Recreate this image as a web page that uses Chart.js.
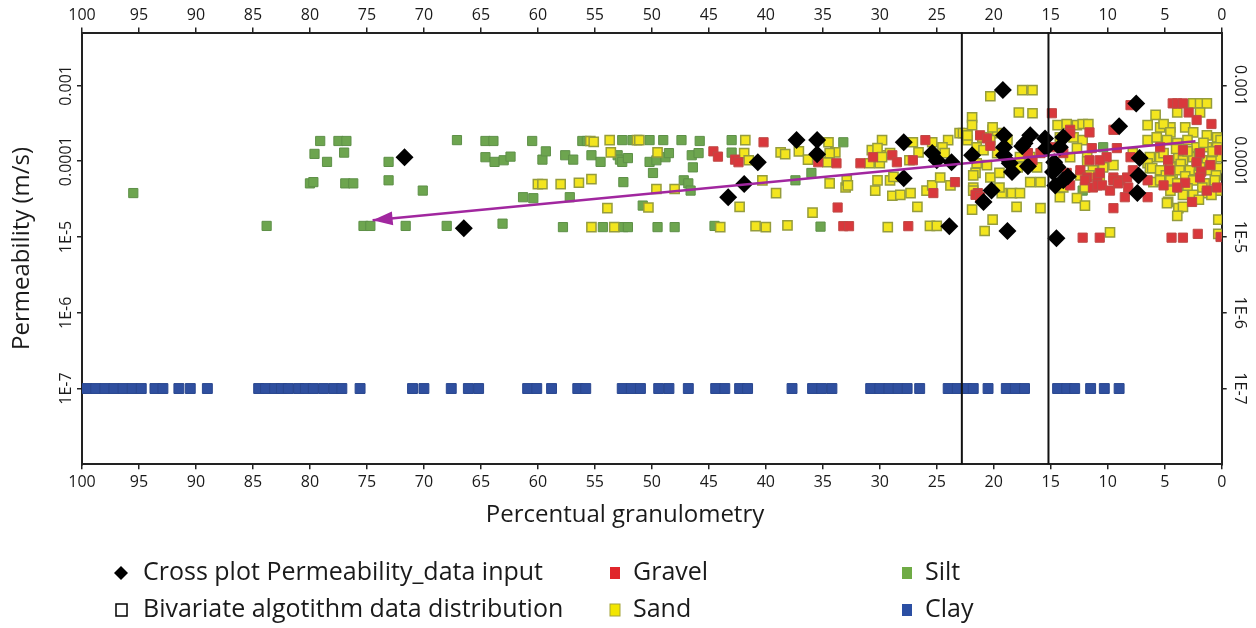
<!DOCTYPE html>
<html>
<head>
<meta charset="utf-8">
<script src="https://cdn.jsdelivr.net/npm/chart.js@4.4.1/dist/chart.umd.min.js"></script>
<style>
  html, body { margin: 0; padding: 0; background: #fff; }
</style>
</head>
<body>
<canvas id="permCht" width="1256" height="628"></canvas>
<script>
// y ticks (log scale, m/s)
const yTickVals = [1e-3, 1e-4, 1e-5, 1e-6, 1e-7];
const yTickLabels = ['0.001', '0.0001', '1E-5', '1E-6', '1E-7'];

// limits
const dividers = [22.8, 15.2];
const trendX = [2.3, 74.5];
const trendY = [1.84e-4, 1.66e-5];

// clay samples all sit on the 1E-7 line
const clayLevel = 1e-7;
const clayX = [99.6, 98.8, 98.0, 97.2, 96.4, 95.6, 94.8, 93.6, 92.9, 91.5, 90.5, 89.0,
  84.5, 83.9, 83.1, 82.5, 81.9, 81.0, 80.4, 79.7, 78.8, 77.9, 77.2, 75.6,
  71.0, 70.0, 67.6, 66.1, 65.2, 60.9, 60.1, 58.8, 56.5, 55.8, 52.6, 51.8, 51.0,
  49.4, 48.5, 46.8, 44.4, 43.6, 42.3, 41.6, 37.7, 35.9, 35.1, 34.2,
  30.8, 30.0, 29.2, 28.4, 27.6, 26.5, 24.0, 23.2, 22.4, 21.8, 20.5, 18.9, 18.1, 17.3,
  14.4, 13.6, 12.9, 11.5, 10.3, 9.0];

const silt = [
  [95.5,3.8e-5],[83.8,1.4e-5],
  [80.0,5.1e-5],[79.7,5.3e-5],[79.6,1.25e-4],[79.1,1.85e-4],[78.5,9.8e-5],[77.5,1.85e-4],[76.8,1.85e-4],[77.0,1.3e-4],[76.9,5.1e-5],[76.2,5.1e-5],
  [75.3,1.4e-5],[74.7,1.4e-5],[73.1,9.8e-5],[73.1,5.6e-5],[71.6,1.4e-5],[70.1,4.1e-5],[68.0,1.4e-5],
  [67.1,1.9e-4],[64.6,1.85e-4],[63.9,1.85e-4],[64.6,1.13e-4],[63.8,9.8e-5],[63.0,1.03e-4],[62.4,1.15e-4],[63.1,1.5e-5],
  [61.3,3.35e-5],[60.4,3.25e-5],[60.5,1.85e-4],[59.6,1.05e-4],[59.3,1.35e-4],[57.8,1.35e-5],[57.6,1.2e-4],[57.2,3.35e-5],[56.9,1.05e-4],
  [56.1,1.85e-4],[55.7,1.85e-4],[55.3,1.2e-4],[54.5,9.8e-5],[54.3,1.35e-5],[53.0,1.2e-4],[52.8,1.05e-4],[52.6,1.9e-4],[52.6,9.8e-5],
  [52.5,5.3e-5],[52.5,1.35e-5],[52.1,1.1e-4],[52.1,1.35e-5],[51.7,1.9e-4],
  [50.8,2.6e-5],[50.2,1.9e-4],[50.2,9.8e-5],[49.9,7.0e-5],[49.6,1.03e-4],[49.5,1.35e-5],[49.0,1.9e-4],[48.8,1.13e-4],[48.5,1.28e-4],[48.0,1.35e-5],
  [47.4,1.9e-4],[47.2,5.6e-5],[46.8,5.1e-5],[46.6,4.1e-5],[46.5,1.2e-4],[46.4,8.3e-5],[45.9,1.28e-4],[45.8,1.85e-4],[44.5,1.4e-5],
  [43.0,1.9e-4],[43.0,1.3e-4],[37.4,5.6e-5],[36.0,7.0e-5],[35.2,1.37e-5],[33.2,1.78e-4],[12.2,4.1e-5],[10.4,1.53e-4]
];

const sand = [
  [55.4,1.85e-4],[55.1,1.8e-4],[53.7,1.9e-4],[51.3,1.9e-4],[51.1,1.9e-4],[53.6,1.31e-4],[49.5,1.31e-4],
  [41.8,1.9e-4],[41.9,1.28e-4],[41.5,1.03e-4],[38.7,1.31e-4],[38.3,1.24e-4],[37.1,1.35e-4],[36.3,1.05e-4],[34.6,9.7e-5],
  [60.0,5.0e-5],[59.6,5.0e-5],[58.0,5.0e-5],[56.4,5.2e-5],[55.3,5.8e-5],[49.6,4.3e-5],[48.0,4.3e-5],[40.3,5.6e-5],[39.1,3.8e-5],
  [53.9,2.4e-5],[50.3,2.45e-5],[42.3,2.5e-5],[35.9,2.1e-5],
  [55.3,1.35e-5],[53.3,1.35e-5],[44.0,1.35e-5],[40.9,1.39e-5],[40.0,1.35e-5],[38.1,1.42e-5],
  [34.5,1.78e-4],[33.9,1.31e-4],[34.4,1.28e-4],[34.4,5.1e-5],[33.0,4.5e-5],[32.9,5.6e-5],[32.8,4.8e-5],
  [29.8,1.9e-4],[30.7,1.4e-4],[29.8,1.2e-4],[30.2,1.03e-4],[30.9,9.4e-5],[30.0,9.4e-5],[29.1,1.28e-4],[30.2,1.49e-4],[29.8,1.13e-4],
  [27.1,1.78e-4],[26.6,1.31e-4],[27.4,1.03e-4],[25.4,1.78e-4],[24.0,1.9e-4],[24.5,1.53e-4],[24.3,1.28e-4],
  [30.2,5.6e-5],[29.1,5.6e-5],[30.4,4.1e-5],[28.9,3.5e-5],[28.2,3.6e-5],[25.9,4.1e-5],[25.4,4.8e-5],[24.7,6.1e-5],[23.8,4.8e-5],[28.8,6.2e-5],[27.3,3.8e-5],
  [26.7,2.5e-5],[29.3,1.35e-5],[25.6,1.4e-5],[25.0,1.4e-5],
  [22.3,1.9e-4],[23.0,2.35e-4],[21.9,3.8e-4],[21.0,2.07e-4],[21.5,1.53e-4],[20.9,1.4e-4],[20.3,7.2e-4],[17.5,8.7e-4],[16.6,8.7e-4],
  [17.8,4.4e-4],[16.6,4.3e-4],[20.1,2.6e-4],[19.7,2.35e-4],[18.8,1.9e-4],
  [22.7,2.35e-4],[22.3,2.2e-4],[20.3,1.9e-4],[19.7,1.28e-4],[17.7,1.13e-4],[16.8,1.13e-4],[21.5,9.4e-5],[20.6,8.9e-5],[17.9,8.3e-5],[16.2,8.3e-5],
  [21.6,7.0e-5],[20.3,6.1e-5],[19.5,7.0e-5],[21.8,6.5e-5],[21.8,4.5e-5],[16.8,5.3e-5],[15.9,5.3e-5],[21.8,4.1e-5],[19.3,3.8e-5],[18.4,3.8e-5],[17.7,3.8e-5],[19.5,4.5e-5],
  [21.9,2.3e-5],[18.0,2.5e-5],[15.9,2.4e-5],[20.1,1.7e-5],[20.8,1.2e-5],[21.9,3.0e-4],[20.1,2.8e-4],
  [14.4,3.0e-4],[13.6,3.1e-4],[12.7,3.0e-4],[12.2,3.1e-4],[11.7,3.1e-4],[14.2,2.07e-4],[13.0,2.07e-4],[12.2,1.9e-4],[12.7,1.49e-4],[13.3,1.13e-4],
  [11.8,1.13e-4],[11.8,1.0e-4],[11.3,7.6e-5],[10.4,8.3e-5],[9.5,8.9e-5],[10.7,6.1e-5],
  [12.4,6.5e-5],[11.6,6.5e-5],[13.9,4.5e-5],[12.0,4.5e-5],[14.2,3.35e-5],[12.7,3.25e-5],[12.0,2.6e-5],[9.8,1.15e-5],
  [6.5,3.0e-4],[5.4,2.8e-4],[4.5,2.8e-4],[5.8,4.1e-4],[5.1,3.1e-4],[7.8,1.28e-4],[6.3,1.13e-4],[5.4,1.13e-4],[6.5,1.9e-4],[5.7,2.07e-4],
  [6.5,9.4e-5],[6.3,8.1e-5],[5.4,7.2e-5],[6.0,5.3e-5],[4.8,5.3e-5],[4.7,2.9e-5],[3.8,2.4e-5],[3.9,4.5e-5],[4.3,7.0e-5],[4.5,1.03e-4],[3.8,1.13e-4],
  [3.9,4.4e-4],[2.5,5.8e-4],[1.9,5.8e-4],[1.3,5.8e-4],[1.9,4.4e-4],[4.5,2.4e-4],[3.2,2.8e-4],[2.5,2.4e-4],[1.3,2.2e-4],[0.4,2.07e-4],[0.1,1.9e-4],
  [4.8,1.9e-4],[3.9,1.73e-4],[3.0,1.9e-4],[2.2,1.53e-4],[1.3,1.53e-4],[0.4,1.53e-4],[1.6,1.75e-4],[4.0,1.45e-4],
  [5.1,1.28e-4],[3.4,1.03e-4],[2.5,1.13e-4],[1.3,1.03e-4],[0.4,1.13e-4],[3.0,1.35e-4],[2.0,1.25e-4],[0.8,1.35e-4],[0.9,1.0e-4],[2.2,9.0e-5],[3.6,9.2e-5],
  [6.1,8.1e-5],[5.4,7.6e-5],[4.5,8.3e-5],[3.7,7.6e-5],[2.8,7.6e-5],[1.9,8.3e-5],[1.0,7.6e-5],[0.2,8.1e-5],[0.5,6.5e-5],[2.0,6.6e-5],[3.2,6.3e-5],[4.9,6.5e-5],
  [5.4,5.6e-5],[4.5,5.6e-5],[3.9,5.1e-5],[2.5,5.6e-5],[1.5,5.1e-5],[0.6,5.6e-5],[1.7,4.5e-5],[3.0,4.4e-5],
  [4.5,4.1e-5],[3.4,3.6e-5],[2.5,3.6e-5],[1.3,3.8e-5],[0.4,4.1e-5],[0.9,3.6e-5],[2.0,3.1e-5],
  [4.8,2.8e-5],[3.4,2.5e-5],[3.9,1.9e-5],[0.3,1.7e-5],[0.3,1.1e-5]
];

const gravel = [
  [44.6,1.35e-4],[44.2,1.15e-4],[42.7,1.05e-4],[42.4,9.7e-5],[40.2,1.78e-4],[35.4,9.7e-5],
  [33.8,9.4e-5],[31.7,9.4e-5],[30.6,1.13e-4],[28.9,1.2e-4],[28.5,9.7e-5],[26.0,1.9e-4],[27.1,1.03e-4],[25.3,3.8e-5],[23.4,5.3e-5],
  [33.7,2.45e-5],[33.2,1.39e-5],[32.7,1.39e-5],[27.5,1.39e-5],
  [21.4,3.8e-5],[21.6,3.6e-5],[21.2,3.35e-5],[21.2,2.2e-4],[20.6,2.0e-4],[20.3,1.6e-4],[17.0,1.28e-4],[16.6,1.03e-4],
  [14.9,4.3e-4],[14.9,1.53e-4],[13.9,1.28e-4],[15.9,1.28e-4],
  [13.3,2.6e-4],[13.3,2.35e-4],[11.6,2.4e-4],[9.5,2.6e-4],[11.4,1.49e-4],[10.1,1.13e-4],[10.7,1.03e-4],[9.2,1.49e-4],[8.0,1.13e-4],[11.6,1.03e-4],
  [12.4,7.6e-5],[13.6,7.0e-5],[11.8,6.1e-5],[10.9,6.1e-5],[10.7,7.0e-5],[9.5,6.1e-5],[8.9,5.6e-5],[8.3,6.1e-5],[12.0,5.6e-5],[13.3,4.8e-5],
  [11.3,4.5e-5],[10.9,4.8e-5],[10.5,4.8e-5],[9.8,4.1e-5],
  [9.5,5.6e-5],[9.1,5.1e-5],[8.2,4.5e-5],[7.8,7.6e-5],[6.5,5.6e-5],[8.5,3.35e-5],[6.5,3.35e-5],[9.5,2.4e-5],
  [12.2,9.8e-6],[10.7,9.8e-6],
  [8.0,5.5e-4],[4.3,5.8e-4],[3.9,5.8e-4],[3.4,5.8e-4],[2.9,4.4e-4],[2.2,3.5e-4],[0.9,3.1e-4],
  [5.4,1.53e-4],[3.4,1.4e-4],[1.9,1.28e-4],[0.2,1.4e-4],[4.7,1.03e-4],[2.2,9.7e-5],[1.0,8.9e-5],[4.6,7.6e-5],[1.8,7.3e-5],[3.2,5.2e-5],
  [5.1,4.8e-5],[3.9,4.5e-5],[1.9,6.1e-5],[1.3,4.1e-5],[0.4,4.5e-5],[2.6,2.9e-5],
  [4.4,9.8e-6],[3.4,9.8e-6],[2.1,1.1e-5],[0.1,1.0e-5]
];

// cross plot permeability data input (black diamonds)
const crossPlot = [
  [71.7,1.13e-4],[66.5,1.3e-5],[43.3,3.35e-5],[41.9,5.0e-5],[40.7,9.7e-5],[37.3,1.9e-4],[35.5,1.9e-4],[35.5,1.24e-4],
  [27.9,1.78e-4],[27.9,5.96e-5],[25.4,1.28e-4],[25.0,1.03e-4],[23.7,9.7e-5],[23.9,1.39e-5],[21.9,1.2e-4],[20.9,2.9e-5],[20.2,4.1e-5],
  [19.2,8.7e-4],[19.1,2.2e-4],[19.1,1.53e-4],[19.1,1.2e-4],[18.6,9.4e-5],[18.4,7.2e-5],[18.8,1.2e-5],
  [16.8,2.2e-4],[17.3,1.73e-4],[17.5,1.58e-4],[17.0,8.6e-5],[15.5,2.0e-4],[15.4,1.49e-4],[13.9,2.07e-4],[14.2,1.53e-4],
  [14.7,9.7e-5],[14.4,8.3e-5],[14.8,7.2e-5],[14.6,4.8e-5],[13.9,5.6e-5],[13.5,6.3e-5],[14.5,9.6e-6],
  [9.0,2.9e-4],[7.5,5.8e-4],[7.2,1.1e-4],[7.3,6.5e-5],[7.4,3.8e-5]
];

const arrowColor = '#a1279f';
const font = 'Open Sans';

function pts(arr) {
  return arr.map(p => ({ x: p[0], y: p[1] }));
}

const overlay = {
  id: 'overlay',
  afterDatasetsDraw(chart) {
    const ctx = chart.ctx, xs = chart.scales.x, ys = chart.scales.y, a = chart.chartArea;
    ctx.save();
    ctx.strokeStyle = '#111';
    ctx.lineWidth = 2;
    dividers.forEach(v => {
      const px = xs.getPixelForValue(v);
      ctx.beginPath();
      ctx.moveTo(px, a.top);
      ctx.lineTo(px, a.bottom);
      ctx.stroke();
    });
    // arrow head at the end of the trend line
    const x0 = xs.getPixelForValue(trendX[0]), y0 = ys.getPixelForValue(trendY[0]);
    const x1 = xs.getPixelForValue(trendX[1]), y1 = ys.getPixelForValue(trendY[1]);
    const ang = Math.atan2(y1 - y0, x1 - x0);
    const len = 20, half = 7;
    ctx.fillStyle = arrowColor;
    ctx.beginPath();
    ctx.moveTo(x1, y1);
    ctx.lineTo(x1 - len * Math.cos(ang) + half * Math.sin(ang), y1 - len * Math.sin(ang) - half * Math.cos(ang));
    ctx.lineTo(x1 - len * Math.cos(ang) - half * Math.sin(ang), y1 - len * Math.sin(ang) + half * Math.cos(ang));
    ctx.closePath();
    ctx.fill();
    ctx.restore();
  },
  afterDraw(chart) {
    const ctx = chart.ctx, ys = chart.scales.y, a = chart.chartArea;
    ctx.save();
    ctx.fillStyle = '#1a1a1a';
    ctx.textAlign = 'center';
    ctx.textBaseline = 'middle';
    ctx.font = '16px "' + font + '"';
    // rotated y tick labels, both sides
    yTickVals.forEach((v, i) => {
      const py = ys.getPixelForValue(v);
      ctx.save();
      ctx.translate(a.left - 16, py);
      ctx.rotate(-Math.PI / 2);
      ctx.fillText(yTickLabels[i], 0, 0);
      ctx.restore();
      ctx.save();
      ctx.translate(a.right + 18, py);
      ctx.rotate(Math.PI / 2);
      ctx.fillText(yTickLabels[i], 0, 0);
      ctx.restore();
    });
    // axis titles
    ctx.font = '24px "' + font + '"';
    ctx.save();
    ctx.translate(22, (a.top + a.bottom) / 2);
    ctx.rotate(-Math.PI / 2);
    ctx.fillText('Permeability (m/s)', 0, 0);
    ctx.restore();
    ctx.fillText('Percentual granulometry', 625, 515);

    // legend
    ctx.textAlign = 'left';
    ctx.font = '25px "' + font + '"';
    const r1 = 573, r2 = 610;
    ctx.fillStyle = '#000';
    ctx.beginPath();
    ctx.moveTo(121, r1 - 7); ctx.lineTo(128, r1); ctx.lineTo(121, r1 + 7); ctx.lineTo(114, r1);
    ctx.closePath(); ctx.fill();
    ctx.strokeStyle = '#000'; ctx.lineWidth = 1.5;
    ctx.strokeRect(116, r2 - 6, 11, 12);
    ctx.fillStyle = '#1a1a1a';
    ctx.fillText('Cross plot Permeability_data input', 143, r1);
    ctx.fillText('Bivariate algotithm data distribution', 143, r2);
    const keys = [
      ['Gravel', '#e0262b', 610, r1], ['Sand', '#f2e600', 610, r2],
      ['Silt', '#6fab45', 902, r1], ['Clay', '#2b4fa3', 902, r2]
    ];
    keys.forEach(k => {
      ctx.fillStyle = k[1];
      ctx.fillRect(k[2], k[3] - 6, 10, 12);
      if (k[0] === 'Sand') { ctx.strokeStyle = '#a3a33a'; ctx.lineWidth = 1; ctx.strokeRect(k[2], k[3] - 6, 10, 12); }
      ctx.fillStyle = '#1a1a1a';
      ctx.fillText(k[0], k[2] + 23, k[3]);
    });
    ctx.restore();
  }
};

const xAxis = (pos, h, pad) => ({
  type: 'linear', position: pos, min: 0, max: 100, reverse: true,
  ticks: { stepSize: 5, autoSkip: false, maxRotation: 0, padding: pad, color: '#1a1a1a', font: { family: font, size: 16 } },
  grid: { drawOnChartArea: false, drawTicks: true, tickLength: 5, color: '#222', lineWidth: 1.5 },
  border: { color: '#222', width: 2 },
  afterFit: s => { s.height = h; }
});
const yAxis = (pos, w) => ({
  type: 'logarithmic', position: pos, min: 1e-8, max: 0.005,
  afterBuildTicks: s => { s.ticks = yTickVals.map(v => ({ value: v })); },
  ticks: { display: false },
  grid: { drawOnChartArea: false, drawTicks: true, tickLength: 5, color: '#222', lineWidth: 1.5 },
  border: { color: '#222', width: 2 },
  afterFit: s => { s.width = w; }
});

const ctx = document.getElementById('permCht');
const permChart = new Chart(ctx, {
  type: 'scatter',
  data: {
    datasets: [
      { type: 'line', label: 'trend', data: trendX.map((x, i) => ({ x: x, y: trendY[i] })),
        borderColor: arrowColor, borderWidth: 2.5, pointRadius: 0, fill: false, tension: 0 },
      { label: 'Cross plot Permeability_data input', data: pts(crossPlot), pointStyle: 'rectRot',
        pointRadius: 9, backgroundColor: '#000', borderColor: '#000', borderWidth: 0 },
      { label: 'Gravel', data: pts(gravel), pointStyle: 'rect', pointRadius: 6.5,
        backgroundColor: '#d9383c', borderColor: '#bf4a46', borderWidth: 1 },
      { label: 'Sand', data: pts(sand), pointStyle: 'rect', pointRadius: 6.5,
        backgroundColor: '#f3e51e', borderColor: '#959c3c', borderWidth: 1.5 },
      { label: 'Silt', data: pts(silt), pointStyle: 'rect', pointRadius: 6.5,
        backgroundColor: '#6da54f', borderColor: '#5e9048', borderWidth: 1 },
      { label: 'Clay', data: clayX.map(x => ({ x: x, y: clayLevel })), pointStyle: 'rect', pointRadius: 7,
        backgroundColor: '#2f4f9f', borderColor: '#2a478f', borderWidth: 1 }
    ]
  },
  options: {
    responsive: false,
    animation: false,
    layout: { padding: 0 },
    plugins: { legend: { display: false }, tooltip: { enabled: false } },
    scales: {
      x: xAxis('bottom', 163.7, 4),
      x2: xAxis('top', 32.5, 2),
      y: yAxis('left', 82),
      y2: yAxis('right', 34.3)
    }
  },
  plugins: [overlay]
});
</script>
</body>
</html>
